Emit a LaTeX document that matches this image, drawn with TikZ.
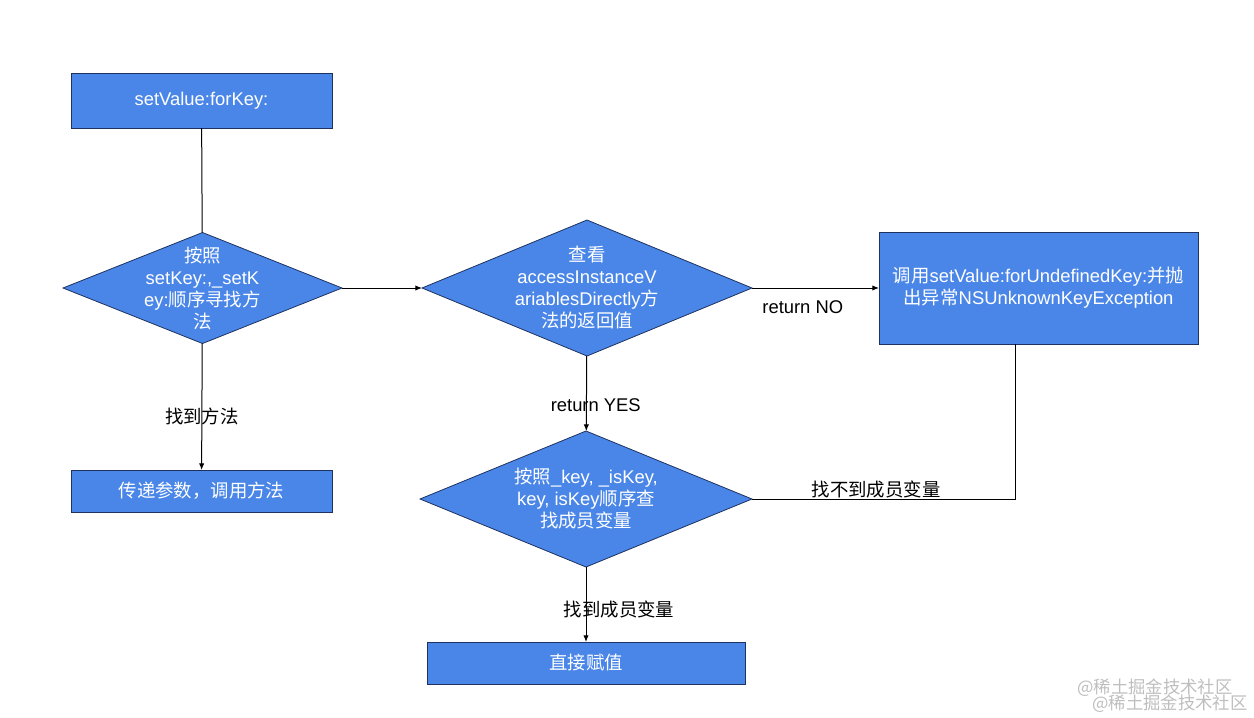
\documentclass[tikz,border=0pt]{standalone}
\usepackage{fontspec}
\setmainfont{Liberation Sans}
\newfontfamily\zhfont{Noto Sans CJK SC}
\newcommand{\zh}[1]{{\zhfont #1}}
\usetikzlibrary{shapes.geometric,arrows.meta}

\definecolor{boxblue}{RGB}{74,134,232}
\definecolor{boxline}{RGB}{30,50,95}
\definecolor{markgray}{RGB}{190,190,190}

\tikzset{every picture/.style={line width=0.75pt}}
\tikzset{
	chartfont/.style={font=\fontsize{13.8}{16.5}\selectfont},
	flowbox/.style={draw=boxline, fill=boxblue, text=white, line width=0.6pt, inner sep=0pt, outer sep=0pt, align=center, chartfont},
	decision/.style={flowbox, shape=diamond},
	decisiontext/.style={text=white, inner sep=0pt, align=center, chartfont},
	edgelabel/.style={inner sep=1pt, chartfont},
	flowarrow/.style={-{Latex[length=5pt,width=4pt]}},
	watermark/.style={text=markgray, inner sep=0pt, font=\zhfont\fontsize{13}{15}\selectfont},
}

\begin{document}
\begin{tikzpicture}[x=0.75pt,y=0.75pt,yscale=-1]
	\useasboundingbox (0,0) rectangle (1254,718);
	
	% boxes
	\node [flowbox, minimum width=195.75pt, minimum height=41.25pt] (setvalue) at (201.5,100.5) {setValue:forKey:};
	\node [flowbox, minimum width=195.75pt, minimum height=31.5pt] (callmethod) at (201.5,491) {\zh{传递参数，调用方法}};
	\node [flowbox, minimum width=239.25pt, minimum height=84pt] (undefined) at (1038.5,288) {\zh{调用}setValue:forUndefinedKey:\zh{并抛}\\\zh{出异常}NSUnknownKeyException};
	\node [flowbox, minimum width=238.5pt, minimum height=31.5pt] (assign) at (586,663) {\zh{直接赋值}};
	
	% decisions
	\node [decision, minimum width=209.25pt, minimum height=83.25pt] (findsetter) at (202.5,288) {};
	\node [decisiontext] (findsettertext) at (findsetter) {\zh{按照}\\setKey:,\_setK\\ey:\zh{顺序寻找方}\\\zh{法}};
	\node [decision, minimum width=247.5pt, minimum height=102pt] (accessivar) at (587,288) {};
	\node [decisiontext] (accessivartext) at (accessivar) {\zh{查看}\\accessInstanceV\\ariablesDirectly\zh{方}\\\zh{法的返回值}};
	\node [decision, minimum width=249pt, minimum height=102pt] (findivar) at (586,499) {};
	\node [decisiontext] (findivartext) at (findivar) {\zh{按照}\_key, \_isKey,\\key, isKey\zh{顺序查}\\\zh{找成员变量}};
	
	% connectors
	\draw (setvalue) -- (findsetter);
	\draw [flowarrow] (findsetter) -- (accessivar);
	\draw [flowarrow] (findsetter) -- node [edgelabel, pos=0.58] {\zh{找到方法}} (callmethod);
	\draw [flowarrow] (accessivar) -- node [edgelabel, below=8pt, pos=0.4] {return NO} (undefined);
	\draw [flowarrow] (accessivar) -- node [edgelabel, pos=0.66, xshift=7pt] {return YES} (findivar);
	\draw [flowarrow] (findivar) -- node [edgelabel, pos=0.57, xshift=24.75pt] {\zh{找到成员变量}} (assign);
	\coordinate (bend) at ([xshift=-16.9pt]undefined.south |- findivar.east);
	\draw (findivar.east) -- node [edgelabel, above, inner sep=0.5pt, pos=0.47] {\zh{找不到成员变量}} (bend) -- (bend |- undefined.south);
	
	% watermark
	\node [watermark] (mark1) at (1155,688) {@稀土掘金技术社区};
	\node [watermark] (mark2) at (1170,704) {@稀土掘金技术社区};
\end{tikzpicture}
\end{document}
